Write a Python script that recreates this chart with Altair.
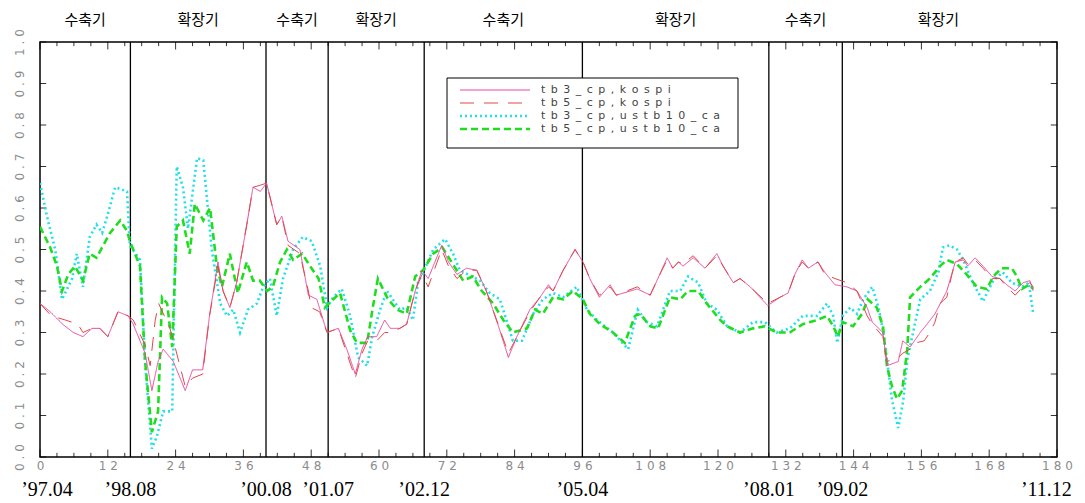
import altair as alt
import pandas as pd

# ---------------- data ----------------
series_names = ["tb3_cp,kospi", "tb5_cp,kospi", "tb3_cp,ustb10_ca", "tb5_cp,ustb10_ca"]
series_colors = ["#e8489c", "#e04848", "#20e0e8", "#20dd20"]

tb3_kospi = [
    (0, 0.37), (1.8, 0.35), (4, 0.32), (5.9, 0.30), (7.6, 0.29), (9.2, 0.31), (10.6, 0.31),
    (12, 0.29), (13.8, 0.35), (15.6, 0.34), (16.5, 0.32), (18.6, 0.25), (19.8, 0.16),
    (20.9, 0.23), (21.8, 0.26), (23.6, 0.23), (25.7, 0.16), (27, 0.21), (28.8, 0.21),
    (30, 0.34), (31.5, 0.47), (32.4, 0.40), (33.6, 0.36), (34.8, 0.42), (36.6, 0.56),
    (37.7, 0.65), (39, 0.64), (40.1, 0.66), (41.9, 0.56), (42.8, 0.58), (43.9, 0.52),
    (46, 0.50), (47.5, 0.39), (49, 0.38), (50.8, 0.30), (52.8, 0.31), (54.3, 0.26),
    (55.8, 0.20), (57, 0.26), (58, 0.29), (59.6, 0.29), (61, 0.33), (62, 0.31),
    (63.7, 0.31), (64.9, 0.32), (66.4, 0.40), (67.6, 0.45), (68.7, 0.43), (71.1, 0.51),
    (72.3, 0.47), (73.8, 0.44), (75.5, 0.455), (77.3, 0.45), (79, 0.40), (80.8, 0.33),
    (82.9, 0.24), (84.4, 0.29), (86.7, 0.355), (88.5, 0.385), (90, 0.415), (90.8, 0.40),
    (92.6, 0.45), (94.7, 0.50), (96.1, 0.47), (97.3, 0.43), (99, 0.385), (100.9, 0.415),
    (102, 0.39), (105.7, 0.405), (108, 0.39), (109.7, 0.44), (111, 0.48), (112, 0.455),
    (113, 0.47), (113.8, 0.46), (115.6, 0.48), (117.7, 0.455), (119.8, 0.49), (120.9, 0.46),
    (122.7, 0.42), (123.9, 0.43), (125.7, 0.41), (128.8, 0.365), (131, 0.385), (132.4, 0.395),
    (133.6, 0.44), (134.9, 0.475), (136, 0.455), (137.7, 0.47), (138.9, 0.445), (140.7, 0.415),
    (142.8, 0.41), (144.6, 0.40), (146.4, 0.36), (147.3, 0.325), (149.2, 0.30), (149.9, 0.22),
    (151.9, 0.23), (152.7, 0.28), (154, 0.265), (155.8, 0.30), (157, 0.32), (158.4, 0.345),
    (160.5, 0.40), (162, 0.47), (163.4, 0.475), (164.2, 0.46), (165.5, 0.48), (166.9, 0.46),
    (168.5, 0.435), (169.9, 0.43), (171.1, 0.415), (172.6, 0.40), (174, 0.42), (175.2, 0.425),
    (175.8, 0.40),
]

tb5_kospi = [
    (0, 0.37), (2, 0.34), (4.5, 0.33), (6.7, 0.32), (7.6, 0.30), (9.2, 0.31), (10.6, 0.31),
    (12, 0.29), (13.8, 0.35), (15.6, 0.34), (16.5, 0.33), (18.6, 0.27), (19.5, 0.22),
    (20.4, 0.33), (21, 0.37), (22, 0.34), (23, 0.31), (24, 0.26), (25.7, 0.17), (27, 0.19),
    (28.8, 0.20), (30, 0.34), (31.5, 0.46), (32.4, 0.40), (33.6, 0.36), (34.8, 0.42),
    (36.6, 0.56), (37.7, 0.65), (39, 0.655), (40.1, 0.66), (41.9, 0.56), (42.8, 0.58),
    (43.9, 0.51), (46, 0.49), (47.5, 0.40), (48, 0.36), (49.5, 0.35), (50.8, 0.30),
    (52.8, 0.31), (54.3, 0.25), (55.8, 0.19), (57, 0.25), (58, 0.28), (59.6, 0.28),
    (61, 0.30), (62, 0.30), (63.7, 0.31), (64.9, 0.32), (66.4, 0.40), (67.6, 0.44),
    (68.7, 0.41), (71.1, 0.50), (72.3, 0.46), (73.8, 0.43), (75.5, 0.45), (77.3, 0.45),
    (79, 0.40), (80.8, 0.33), (82.9, 0.25), (84.4, 0.29), (86.7, 0.35), (88.5, 0.385),
    (90, 0.41), (90.8, 0.40), (92.6, 0.45), (94.7, 0.50), (96.1, 0.47), (97.3, 0.43),
    (99, 0.39), (100.9, 0.41), (102, 0.39), (105.7, 0.41), (108, 0.39), (109.7, 0.44),
    (111, 0.475), (112, 0.455), (113, 0.47), (113.8, 0.465), (115.6, 0.485), (117.7, 0.455),
    (119.8, 0.485), (120.9, 0.46), (122.7, 0.42), (123.9, 0.43), (125.7, 0.41), (128.8, 0.37),
    (131, 0.385), (132.4, 0.395), (133.6, 0.44), (134.9, 0.47), (136, 0.455), (137.7, 0.47),
    (138.9, 0.44), (140.7, 0.43), (142.8, 0.42), (144.6, 0.40), (146.4, 0.34), (147.3, 0.32),
    (149.2, 0.29), (149.9, 0.23), (151.9, 0.24), (152.7, 0.25), (154, 0.26), (155, 0.275),
    (156.5, 0.28), (157.5, 0.30), (158.4, 0.325), (159.3, 0.37), (160.5, 0.385), (161.4, 0.44),
    (162, 0.47), (163.4, 0.48), (164.2, 0.465), (165.5, 0.475), (166.9, 0.455), (168.5, 0.43),
    (169.9, 0.43), (171.1, 0.41), (172.6, 0.39), (174, 0.41), (175.2, 0.42), (175.8, 0.41),
]

tb3_ustb = [
    (0, 0.66), (1.4, 0.57), (2.7, 0.50), (3.9, 0.38), (5.7, 0.43), (6.5, 0.49), (7.6, 0.41),
    (8.8, 0.53), (10, 0.56), (11, 0.54), (11.9, 0.58), (13.3, 0.65), (15.4, 0.64),
    (15.9, 0.51), (17.7, 0.475), (18.6, 0.23), (19.8, 0.02), (20.7, 0.05), (21.8, 0.11),
    (23.4, 0.11), (24.2, 0.70), (25.3, 0.65), (26.2, 0.55), (27.8, 0.72), (28.9, 0.715),
    (30.4, 0.50), (31.9, 0.37), (33.1, 0.34), (34.2, 0.355), (35.4, 0.30), (36.8, 0.355),
    (38.4, 0.37), (39.5, 0.41), (40.7, 0.43), (41.9, 0.34), (43, 0.43), (44.8, 0.50),
    (46.5, 0.53), (48.1, 0.52), (49.6, 0.46), (50.8, 0.36), (51.9, 0.385), (53.4, 0.405),
    (54.9, 0.34), (56.3, 0.24), (57.9, 0.22), (58.8, 0.29), (60.2, 0.355), (61.4, 0.40),
    (63.7, 0.355), (64.9, 0.36), (66, 0.33), (66.9, 0.42), (67.8, 0.445), (69.6, 0.50),
    (71.7, 0.525), (73.1, 0.49), (74.3, 0.45), (77.9, 0.425), (79.6, 0.395), (81.4, 0.38),
    (83.7, 0.28), (85.3, 0.28), (87.3, 0.345), (89, 0.38), (90.8, 0.395), (92.6, 0.385),
    (95, 0.41), (96.8, 0.355), (98.6, 0.33), (101.4, 0.30), (104.1, 0.26), (105.8, 0.355),
    (107.4, 0.325), (109.2, 0.315), (111.5, 0.40), (113.3, 0.40), (114.7, 0.435), (116.5, 0.42),
    (118, 0.37), (119.8, 0.355), (121.6, 0.315), (123.9, 0.30), (126.2, 0.325), (128.3, 0.325),
    (130.4, 0.30), (132.7, 0.31), (135, 0.34), (137.5, 0.34), (139.3, 0.37), (140.4, 0.34),
    (141.1, 0.275), (142.1, 0.34), (143.4, 0.36), (144.6, 0.345), (145.7, 0.38), (147.3, 0.41),
    (148.4, 0.36), (149.2, 0.305), (149.9, 0.235), (150.8, 0.137), (151.9, 0.07), (152.8, 0.137),
    (153.5, 0.235), (154.6, 0.305), (155.8, 0.38), (157.5, 0.40), (159, 0.445), (159.8, 0.505),
    (161, 0.51), (162.3, 0.50), (163.4, 0.475), (165.1, 0.42), (166.9, 0.375), (168.7, 0.425),
    (170.4, 0.445), (172, 0.42), (173.8, 0.41), (175, 0.42), (175.8, 0.345),
]

tb5_ustb = [
    (0, 0.555), (1.8, 0.505), (3, 0.46), (3.9, 0.40), (5, 0.44), (6.2, 0.46), (7.6, 0.425),
    (8.8, 0.49), (10, 0.48), (11, 0.505), (12.4, 0.54), (14.2, 0.57), (15.4, 0.545),
    (15.9, 0.52), (17.7, 0.46), (18.6, 0.23), (19.8, 0.06), (20.9, 0.11), (21.6, 0.385),
    (22.5, 0.37), (23.4, 0.265), (24.2, 0.555), (25.3, 0.57), (26.5, 0.49), (27.4, 0.61),
    (28.9, 0.57), (30.1, 0.60), (31.3, 0.46), (32.2, 0.41), (33.6, 0.49), (35, 0.395),
    (36.6, 0.47), (37.7, 0.425), (38.9, 0.425), (40.2, 0.40), (41.2, 0.41), (42.5, 0.47),
    (43.7, 0.50), (44.8, 0.475), (46.4, 0.49), (47.8, 0.46), (49.3, 0.43), (50.4, 0.36),
    (51.9, 0.38), (53.1, 0.395), (54.9, 0.305), (56.1, 0.275), (57.9, 0.275), (58.9, 0.36),
    (59.8, 0.43), (61.6, 0.38), (63.2, 0.355), (64.9, 0.345), (66.4, 0.435), (67.8, 0.45),
    (69.6, 0.49), (71.2, 0.505), (72.6, 0.475), (74.9, 0.425), (76.6, 0.435), (78.2, 0.40),
    (80.2, 0.37), (82, 0.33), (83.7, 0.30), (86.2, 0.31), (87.6, 0.355), (89, 0.345),
    (90.8, 0.385), (92.6, 0.38), (94.3, 0.40), (96.1, 0.38), (97.3, 0.345), (99.1, 0.32),
    (101.4, 0.30), (103.5, 0.275), (105.3, 0.34), (106.2, 0.345), (108, 0.315), (109.4, 0.31),
    (111.5, 0.385), (113.3, 0.38), (114.7, 0.40), (116.5, 0.40), (118, 0.37), (120.4, 0.33),
    (121.6, 0.315), (123.9, 0.30), (126.2, 0.31), (128.3, 0.315), (130.4, 0.30), (132.7, 0.30),
    (135, 0.32), (137.5, 0.33), (139.3, 0.34), (140.4, 0.315), (141.2, 0.29), (142.1, 0.325),
    (143.9, 0.315), (145.5, 0.345), (146.5, 0.38), (148.1, 0.36), (149.2, 0.315), (149.9, 0.22),
    (150.8, 0.17), (151.7, 0.14), (152.6, 0.16), (153.5, 0.26), (154, 0.385), (155.8, 0.41),
    (157.5, 0.43), (159.3, 0.46), (160.5, 0.475), (162.3, 0.465), (164, 0.44), (165.8, 0.41),
    (167.6, 0.405), (168.7, 0.435), (170.2, 0.455), (172, 0.455), (172.9, 0.435), (173.8, 0.405),
    (175, 0.415), (175.8, 0.405),
]

period_edges = [0, 16, 40, 51, 68, 96, 129, 142, 176]
period_labels = ["수축기", "확장기", "수축기", "확장기", "수축기", "확장기", "수축기", "확장기"]
date_labels = ["’97.04", "’98.08", "’00.08", "’01.07", "’02.12", "’05.04", "’08.01", "’09.02", "’11.12"]
x_tick_values = list(range(0, 181, 12))
y_tick_values = [round(i * 0.1, 1) for i in range(11)]

# ---------------- layout ----------------
W, H = 1017, 415
X = alt.Scale(domain=[0, 180], nice=False, zero=False)
Y = alt.Scale(domain=[0, 1], nice=False)

dashes = {0: [1, 0], 1: [14, 10], 2: [2, 3], 3: [7, 4]}
widths = {0: 1.0, 1: 1.0, 2: 2.6, 3: 2.6}
SPACED = "join(split(datum.label, ''), '\u2004')"

one = pd.DataFrame({"k": [0]})
layers = []

# boundary lines (between periods)
bdf = pd.DataFrame({"x": period_edges[1:-1]})
layers.append(alt.Chart(bdf).mark_rule(color="black", strokeWidth=1.3).encode(
    x=alt.X("x:Q", scale=X,
            axis=alt.Axis(values=x_tick_values, title=None, ticks=False, domain=False, grid=False,
                          labelColor="#8c8c8c", labelFont="DejaVu Sans", labelFontSize=12,
                          labelPadding=3, labelFlush=False, labelExpr=SPACED))
))

# inward ticks on the frame
xt = pd.DataFrame({"x": list(range(0, 181, 3))})
xt["len"] = [0.018 if v % 12 == 0 else 0.01 for v in xt["x"]]
xt["y0"] = 0.0
xt["y1"] = xt["len"]
xt["t0"] = 1.0
xt["t1"] = 1.0 - xt["len"]
layers.append(alt.Chart(xt).mark_rule(color="black", strokeWidth=0.8).encode(
    x=alt.X("x:Q", scale=X), y=alt.Y("y0:Q", scale=Y), y2="y1:Q"))
layers.append(alt.Chart(xt).mark_rule(color="black", strokeWidth=0.8).encode(
    x=alt.X("x:Q", scale=X), y=alt.Y("t0:Q", scale=Y), y2="t1:Q"))
yt = pd.DataFrame({"y": y_tick_values})
yt["a0"] = 0.0
yt["a1"] = 1.1
yt["b0"] = 180.0
yt["b1"] = 178.9
layers.append(alt.Chart(yt).mark_rule(color="black", strokeWidth=0.8).encode(
    y=alt.Y("y:Q", scale=Y), x=alt.X("a0:Q", scale=X), x2="a1:Q"))
layers.append(alt.Chart(yt).mark_rule(color="black", strokeWidth=0.8).encode(
    y=alt.Y("y:Q", scale=Y), x=alt.X("b0:Q", scale=X), x2="b1:Q"))

# data lines (cyan and green below, kospi series on top)
series_points = [tb3_kospi, tb5_kospi, tb3_ustb, tb5_ustb]
for i in [2, 3, 0, 1]:
    df = pd.DataFrame(series_points[i], columns=["x", "y"])
    layers.append(alt.Chart(df).mark_line(
        color=series_colors[i], strokeWidth=widths[i], strokeDash=dashes[i], strokeCap="butt",
        strokeJoin="miter", clip=True
    ).encode(
        x=alt.X("x:Q", scale=X),
        y=alt.Y("y:Q", scale=Y,
                axis=alt.Axis(values=y_tick_values, format=".1f", title=None, ticks=False,
                              domain=False, grid=False, labelAngle=270, labelAlign="center",
                              labelBaseline="bottom", labelPadding=14, labelColor="#8c8c8c",
                              labelFont="DejaVu Sans", labelFontSize=12, labelExpr=SPACED)),
        order="x:Q",
    ))

# period labels above the frame
pdf = pd.DataFrame({
    "x": [(period_edges[k] + period_edges[k + 1]) / 2 for k in range(len(period_labels))],
    "t": period_labels,
})
layers.append(alt.Chart(pdf).mark_text(
    font="Noto Sans CJK KR", fontSize=15, color="black", baseline="middle"
).encode(x=alt.X("x:Q", scale=X), y=alt.value(-22), text="t:N"))

# date labels below the axis
ddf = pd.DataFrame({"x": period_edges, "t": date_labels})
layers.append(alt.Chart(ddf.iloc[1:-1]).mark_text(
    font="Liberation Serif", fontSize=20, color="black", baseline="middle"
).encode(x=alt.X("x:Q", scale=X), y=alt.value(H + 33), text="t:N"))
layers.append(alt.Chart(ddf.iloc[:1]).mark_text(
    font="Liberation Serif", fontSize=20, color="black", baseline="middle", dx=7
).encode(x=alt.X("x:Q", scale=X), y=alt.value(H + 33), text="t:N"))
layers.append(alt.Chart(ddf.iloc[-1:]).mark_text(
    font="Liberation Serif", fontSize=20, color="black", baseline="middle", dx=12
).encode(x=alt.X("x:Q", scale=X), y=alt.value(H + 33), text="t:N"))

# legend box
LX0, LX1, LY0, LY1 = 407, 698, 36, 106
layers.append(alt.Chart(one).mark_rect(fill="white", stroke="black", strokeWidth=1).encode(
    x=alt.value(LX0), x2=alt.value(LX1), y=alt.value(LY0), y2=alt.value(LY1)))
rows = [48, 61, 74, 87]
for i, name in enumerate(series_names):
    layers.append(alt.Chart(one).mark_rule(
        color=series_colors[i], strokeWidth=widths[i], strokeDash=dashes[i], strokeCap="butt"
    ).encode(x=alt.value(420), x2=alt.value(490), y=alt.value(rows[i])))
    layers.append(alt.Chart(one).mark_text(
        align="left", baseline="middle", font="DejaVu Sans", fontSize=11, color="#444444"
    ).encode(x=alt.value(501), y=alt.value(rows[i]), text=alt.value("\u2002".join(name))))

chart = alt.layer(*layers).properties(
    width=W, height=H,
    padding={"left": 32, "top": 34, "right": 20, "bottom": 44},
    autosize=alt.AutoSizeParams(type="none"),
).configure_view(stroke="black", strokeWidth=1.5)

chart.save("out.html", embed_options={"renderer": "svg", "actions": False})
